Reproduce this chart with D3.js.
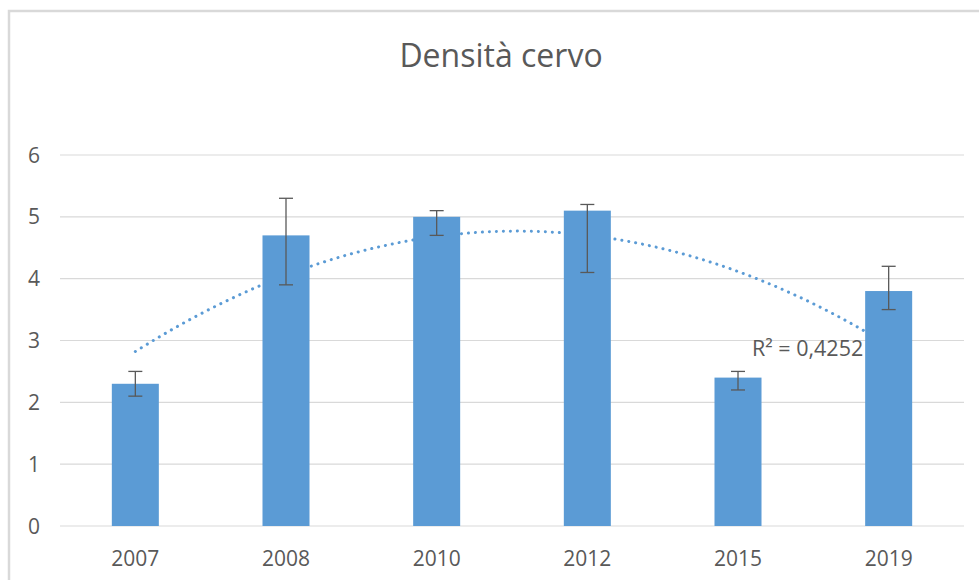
<!DOCTYPE html>
<html>
<head>
<meta charset="utf-8">
<script src="https://cdn.jsdelivr.net/npm/d3@7"></script>
<style>
  body { margin: 0; background: #fff; }
  text { font-family: "Open Sans", sans-serif; fill: #595959; }
</style>
</head>
<body>
<div id="plot"></div>
<script>
// data
const years = ["2007", "2008", "2010", "2012", "2015", "2019"];
const density = [2.3, 4.7, 5.0, 5.1, 2.4, 3.8];
const errLow = [2.1, 3.9, 4.7, 4.1, 2.2, 3.5];
const errHigh = [2.5, 5.3, 5.1, 5.2, 2.5, 4.2];
const yTicks = [0, 1, 2, 3, 4, 5, 6];

window.addEventListener("load", main);

function main(){
  const width = 979, height = 580;
  const left = 60, right = 964, top = 155, bottom = 526;

  const svg = d3.select("#plot").append("svg")
    .attr("width", width)
    .attr("height", height);

  // chart border
  svg.append("rect")
    .attr("x", 9).attr("y", 11)
    .attr("width", 1000).attr("height", 600)
    .attr("fill", "none")
    .attr("stroke", "#d9d9d9")
    .attr("stroke-width", 2.5);

  const x = d3.scaleBand().domain(years).range([left, right]).paddingInner(0.688).paddingOuter(0.344);
  const y = d3.scaleLinear().domain([0, 6]).range([bottom, top]);

  // gridlines
  svg.append("g").selectAll("line")
    .data(yTicks).join("line")
    .attr("x1", left).attr("x2", right)
    .attr("y1", d => y(d)).attr("y2", d => y(d))
    .attr("stroke", "#d9d9d9").attr("stroke-width", 1.2);

  // y labels
  svg.append("g").selectAll("text")
    .data(yTicks).join("text")
    .attr("x", 40).attr("y", d => y(d))
    .attr("dy", "0.36em")
    .attr("text-anchor", "end")
    .attr("font-size", 21)
    .text(d => d);

  // x labels
  svg.append("g").selectAll("text")
    .data(years).join("text")
    .attr("x", d => x(d) + x.bandwidth() / 2)
    .attr("y", 566)
    .attr("text-anchor", "middle")
    .attr("font-size", 21)
    .text(d => d);

  // polynomial (order 2) trendline fitted on the bar values, x = 1..n
  const xs = density.map((d, i) => i + 1);
  const S = k => d3.sum(xs, v => Math.pow(v, k));
  const Sy = k => d3.sum(xs, (v, i) => Math.pow(v, k) * density[i]);
  const A = [[S(0), S(1), S(2)], [S(1), S(2), S(3)], [S(2), S(3), S(4)]];
  const B = [Sy(0), Sy(1), Sy(2)];
  const coef = solve3(A, B);
  const f = v => coef[0] + coef[1] * v + coef[2] * v * v;
  const mean = d3.mean(density);
  const ssTot = d3.sum(density, d => (d - mean) ** 2);
  const ssRes = d3.sum(density, (d, i) => (d - f(xs[i])) ** 2);
  const r2 = 1 - ssRes / ssTot;

  const xt = d3.scaleLinear()
    .domain([1, years.length])
    .range([x(years[0]) + x.bandwidth() / 2, x(years[years.length - 1]) + x.bandwidth() / 2]);
  const trendPts = d3.range(1, years.length + 0.001, 0.05);

  svg.append("path")
    .datum(trendPts)
    .attr("d", d3.line().x(v => xt(v)).y(v => y(f(v))))
    .attr("fill", "none")
    .attr("stroke", "#5b9bd5")
    .attr("stroke-width", 3)
    .attr("stroke-linecap", "round")
    .attr("stroke-dasharray", "0.1 6.9");

  // bars
  svg.append("g").selectAll("rect")
    .data(density).join("rect")
    .attr("x", (d, i) => x(years[i]))
    .attr("y", d => y(d))
    .attr("width", x.bandwidth())
    .attr("height", d => y(0) - y(d))
    .attr("fill", "#5b9bd5");

  // error bars
  const eb = svg.append("g").attr("stroke", "#595959").attr("stroke-width", 1.3);
  years.forEach((yr, i) => {
    const cx = x(yr) + x.bandwidth() / 2;
    eb.append("line").attr("x1", cx).attr("x2", cx).attr("y1", y(errLow[i])).attr("y2", y(errHigh[i]));
    eb.append("line").attr("x1", cx - 7).attr("x2", cx + 7).attr("y1", y(errLow[i])).attr("y2", y(errLow[i]));
    eb.append("line").attr("x1", cx - 7).attr("x2", cx + 7).attr("y1", y(errHigh[i])).attr("y2", y(errHigh[i]));
  });

  // R² label
  svg.append("text")
    .attr("x", 752).attr("y", 356)
    .attr("font-size", 21.5)
    .text("R² = " + r2.toFixed(4).replace(".", ","));

  // title
  svg.append("text")
    .attr("x", 501).attr("y", 67)
    .attr("text-anchor", "middle")
    .attr("font-size", 32)
    .text("Densità cervo");
}

function solve3(A, B){
  // gaussian elimination for a 3x3 system
  const M = A.map((row, i) => row.concat([B[i]]));
  for (let c = 0; c < 3; c++) {
    for (let r = c + 1; r < 3; r++) {
      const k = M[r][c] / M[c][c];
      for (let j = c; j < 4; j++) M[r][j] -= k * M[c][j];
    }
  }
  const out = [0, 0, 0];
  for (let r = 2; r >= 0; r--) {
    let s = M[r][3];
    for (let j = r + 1; j < 3; j++) s -= M[r][j] * out[j];
    out[r] = s / M[r][r];
  }
  return out;
}
</script>
</body>
</html>
